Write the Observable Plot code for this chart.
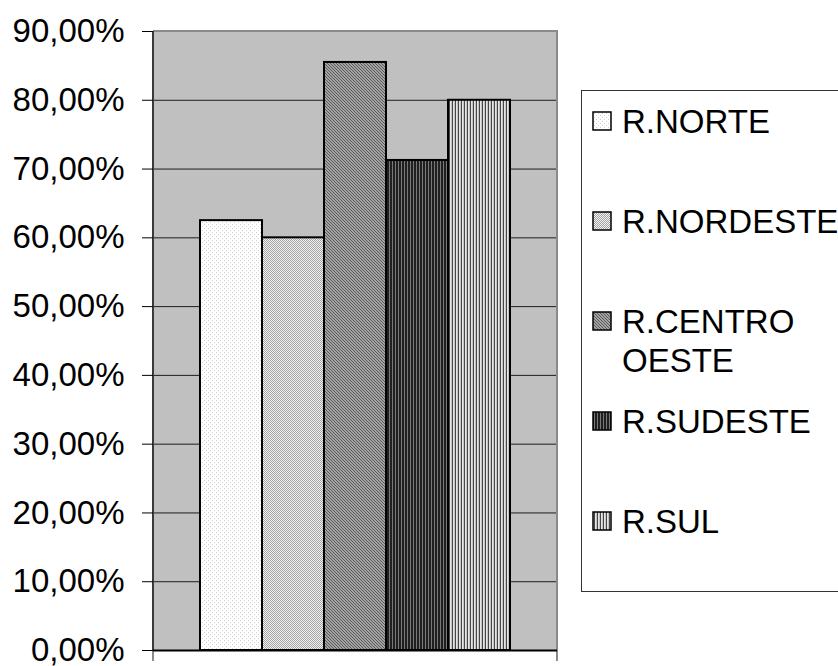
<!DOCTYPE html>
<html>
<head>
<meta charset="utf-8">
<script src="https://cdn.jsdelivr.net/npm/d3@7"></script>
<script src="https://cdn.jsdelivr.net/npm/@observablehq/plot@0.6"></script>
<style>
  html, body { margin: 0; padding: 0; background: #fff; overflow: hidden; }
  #chart { position: relative; width: 838px; height: 666px; font-family: "Liberation Sans", Arial, sans-serif; }
  #chart > svg { position: absolute; left: 0; top: 0; }
  #legend {
    position: absolute; left: 581px; top: 90px; width: 300px; height: 502px;
    border: 1px solid #333; box-sizing: border-box; background: #fff;
  }
  .item { position: absolute; left: 10px; display: flex; align-items: flex-start;
          font-size: 33px; line-height: 39px; color: #000; }
  .item svg { flex: none; margin-top: 9px; margin-right: 10px; }
  .item span { width: 216px; }
</style>
</head>
<body>
<div id="chart"></div>
<script>
// Share by region (fraction of 1)
const regions = ["R.NORTE", "R.NORDESTE", "R.CENTRO OESTE", "R.SUDESTE", "R.SUL"];
const shares = [0.625, 0.600, 0.855, 0.7125, 0.800];

// Value axis
const yTicks = [0, 0.1, 0.2, 0.3, 0.4, 0.5, 0.6, 0.7, 0.8, 0.9];
const yTickLabels = ["0,00%", "10,00%", "20,00%", "30,00%", "40,00%", "50,00%", "60,00%", "70,00%", "80,00%", "90,00%"];

// Fill pattern per region
const fills = ["url(#pat-norte)", "url(#pat-nordeste)", "url(#pat-centro)", "url(#pat-sudeste)", "url(#pat-sul)"];

const data = regions.map((region, i) => ({region, share: shares[i]}));

// Pixel-level hatch patterns: [id, tile width, tile height, background, [col, row, colour] cells]
const patternSpecs = [
  ["pat-norte", 4, 4, "#ffffff", [[0, 0, "#cfcfcf"], [2, 2, "#cfcfcf"]]],
  ["pat-nordeste", 2, 2, "#f2f2f2", [[0, 0, "#a4a4a4"], [1, 1, "#a4a4a4"]]],
  ["pat-centro", 3, 3, "#a2a2a2", [[0, 0, "#5c5c5c"], [1, 1, "#5c5c5c"], [2, 2, "#5c5c5c"]]],
  ["pat-sudeste", 3, 1, "#202020", [[2, 0, "#787878"]]],
  ["pat-sul", 3, 1, "#e6e6e6", [[1, 0, "#c4c4c4"], [2, 0, "#464646"]]]
];

function patternDefs() {
  const g = d3.create("svg:g");
  const defs = g.append("defs");
  for (const [id, w, h, bg, cells] of patternSpecs) {
    const p = defs.append("pattern").attr("id", id)
      .attr("patternUnits", "userSpaceOnUse").attr("width", w).attr("height", h);
    p.append("rect").attr("width", w).attr("height", h).attr("fill", bg);
    for (const [cx, cy, c] of cells) {
      p.append("rect").attr("x", cx).attr("y", cy).attr("width", 1).attr("height", 1).attr("fill", c);
    }
  }
  return g.node();
}

// Plot-area border: grey top/right edges, dark value-axis line, small category ticks below
function plotBorders(index, scales, values, dims) {
  const x0 = dims.marginLeft, x1 = dims.width - dims.marginRight;
  const y0 = dims.marginTop, y1 = dims.height - dims.marginBottom;
  const g = d3.create("svg:g").attr("fill", "none").attr("stroke-width", 2);
  g.append("path").attr("stroke", "#8a8a8a").attr("d", `M${x0},${y0}H${x1}V${y1 + 11}`);
  g.append("path").attr("stroke", "#8a8a8a").attr("d", `M${x0},${y1}V${y1 + 11}`);
  g.append("path").attr("stroke", "#3a3a3a").attr("d", `M${x0},${y0}V${y1}`);
  return g.node();
}

const chart = Plot.plot({
  width: 838,
  height: 666,
  marginLeft: 153,
  marginRight: 281,
  marginTop: 31,
  marginBottom: 16,
  style: {
    fontFamily: '"Liberation Sans", Arial, sans-serif',
    fontSize: "33px",
    color: "#000",
    background: "transparent",
    overflow: "visible"
  },
  x: {domain: regions, paddingInner: 0, paddingOuter: 0.75, axis: null},
  y: {domain: [0, 0.9], axis: null},
  color: {domain: regions, range: fills},
  marks: [
    patternDefs,
    Plot.frame({fill: "#c0c0c0", stroke: null}),
    Plot.gridY(yTicks, {stroke: "#000", strokeOpacity: 0.85, strokeWidth: 1}),
    Plot.barY(data, {x: "region", y: "share", fill: "region", stroke: "#000", strokeWidth: 2}),
    plotBorders,
    Plot.ruleY([0], {stroke: "#000", strokeWidth: 2}),
    Plot.axisY(yTicks, {
      tickFormat: d => yTickLabels[yTicks.indexOf(d)],
      tickSize: 11,
      tickPadding: 18,
      label: null,
      stroke: "#000"
    })
  ]
});

const root = document.getElementById("chart");
root.append(chart);

// Legend to the right of the plot, with the same pattern swatches
const legend = document.createElement("div");
legend.id = "legend";
regions.forEach((region, i) => {
  const item = document.createElement("div");
  item.className = "item";
  item.style.top = (11 + i * 100) + "px";
  item.innerHTML =
    `<svg width="20" height="20"><rect x="1" y="1" width="18" height="18" fill="${fills[i]}" stroke="#000" stroke-width="1.5"/></svg>` +
    `<span>${region}</span>`;
  legend.append(item);
});
root.append(legend);
</script>
</body>
</html>
